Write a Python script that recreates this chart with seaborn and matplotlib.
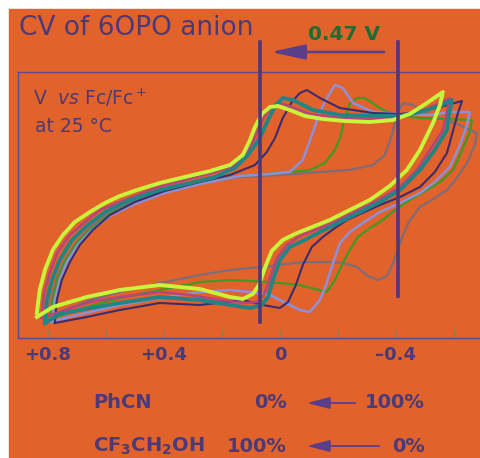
import numpy as np
import pandas as pd
import matplotlib
matplotlib.use("Agg")
import matplotlib.pyplot as plt
import seaborn as sns
from matplotlib.patches import Rectangle

# potential (V vs Fc/Fc+) and current (arb. units),
# each loop: upper branch left -> right, then lower branch back
E_grey = [0.793, 0.786, 0.769, 0.741, 0.703, 0.655, 0.593, 0.507, 0.403, 0.276, 0.138, 0.000,
          -0.138, -0.241, -0.321, -0.362, -0.386, -0.407, -0.424, -0.459, -0.493, -0.552, -0.621, -0.679,
          -0.672, -0.645, -0.610, -0.576, -0.534, -0.483, -0.448, -0.424, -0.407, -0.390, -0.369, -0.338,
          -0.303, -0.266, -0.217, -0.172, -0.079, 0.034, 0.172, 0.276, 0.414, 0.552, 0.655, 0.741, 0.793]
I_grey = [2.0, 4.0, 6.0, 7.8, 9.5, 11.0, 12.4, 13.6, 14.6, 15.5, 16.1, 16.3,
          16.6, 16.8, 17.3, 18.3, 20.3, 22.6, 23.5, 23.3, 22.6, 22.0, 21.3, 20.5,
          19.3, 17.5, 16.0, 14.8, 14.0, 13.1, 11.8, 10.3, 8.8, 7.5, 6.2, 5.8,
          6.2, 7.1, 7.5, 7.6, 7.6, 7.2, 6.8, 6.3, 5.5, 4.6, 3.8, 2.8, 2.0]

E_green = [0.793, 0.783, 0.766, 0.738, 0.700, 0.648, 0.586, 0.500, 0.397, 0.276, 0.138, 0.000,
           -0.103, -0.155, -0.190, -0.207, -0.224, -0.241, -0.266, -0.293, -0.345, -0.390, -0.483, -0.569, -0.662,
           -0.655, -0.621, -0.597, -0.552, -0.507, -0.448, -0.397, -0.345, -0.310, -0.269, -0.241, -0.217,
           -0.190, -0.162, -0.121, -0.069, 0.034, 0.172, 0.276, 0.414, 0.552, 0.655, 0.741, 0.793]
I_green = [1.8, 4.0, 6.0, 7.8, 9.5, 11.0, 12.4, 13.6, 14.6, 15.5, 16.2, 16.5,
           16.8, 17.5, 18.8, 20.0, 22.0, 23.4, 24.0, 24.0, 23.0, 22.3, 22.0, 21.9, 21.8,
           20.6, 18.3, 16.8, 15.6, 14.8, 13.8, 12.8, 11.6, 11.0, 10.1, 8.8, 7.5,
           5.8, 4.6, 4.9, 5.3, 5.6, 5.8, 5.6, 4.8, 4.0, 3.2, 2.4, 1.8]

E_lavender = [0.786, 0.776, 0.759, 0.734, 0.697, 0.648, 0.586, 0.500, 0.397, 0.276, 0.138, 0.034,
              -0.034, -0.079, -0.114, -0.138, -0.162, -0.190, -0.217, -0.252, -0.321, -0.414, -0.517, -0.586, -0.655,
              -0.645, -0.621, -0.586, -0.534, -0.483, -0.414, -0.345, -0.286, -0.241, -0.207, -0.183, -0.159,
              -0.138, -0.103, -0.069, -0.034, 0.034, 0.103, 0.172, 0.276, 0.414, 0.552, 0.655, 0.741, 0.786]
I_lavender = [1.6, 3.8, 5.8, 7.6, 9.3, 10.8, 12.2, 13.4, 14.5, 15.4, 16.2, 16.4,
              16.6, 17.8, 20.6, 22.6, 24.0, 25.3, 25.0, 23.5, 22.6, 22.4, 22.3, 22.6, 22.6,
              21.3, 19.3, 17.1, 15.6, 14.5, 13.5, 12.6, 11.5, 10.6, 9.5, 7.5, 5.3,
              3.8, 2.6, 2.8, 3.3, 4.3, 4.6, 4.8, 4.6, 4.0, 3.3, 2.6, 2.0, 1.6]

E_purple = [0.776, 0.769, 0.752, 0.724, 0.690, 0.645, 0.586, 0.500, 0.397, 0.276, 0.172, 0.086,
            0.045, 0.017, -0.010, -0.041, -0.069, -0.093, -0.138, -0.207, -0.321, -0.414, -0.483, -0.552, -0.628,
            -0.614, -0.593, -0.576, -0.534, -0.483, -0.414, -0.345, -0.276, -0.231, -0.190, -0.148, -0.110,
            -0.079, -0.055, -0.028, 0.000, 0.059, 0.128, 0.276, 0.414, 0.552, 0.666, 0.776]
I_purple = [1.5, 3.8, 5.8, 7.6, 9.3, 10.8, 12.3, 13.6, 14.7, 15.6, 16.3, 17.3,
            18.6, 20.0, 22.0, 23.6, 24.5, 24.8, 24.0, 23.0, 22.5, 22.4, 22.6, 23.1, 23.7,
            22.5, 20.3, 18.5, 16.6, 15.1, 14.1, 13.3, 12.4, 11.8, 11.0, 10.1, 9.1,
            7.3, 5.3, 3.6, 3.0, 3.3, 3.8, 3.3, 3.5, 2.8, 2.1, 1.5]

E_pink = [0.821, 0.814, 0.793, 0.766, 0.724, 0.672, 0.621, 0.534, 0.431, 0.328, 0.234, 0.162,
          0.117, 0.083, 0.055, 0.028, 0.000, -0.041, -0.103, -0.207, -0.321, -0.414, -0.483, -0.545, -0.586,
          -0.576, -0.562, -0.517, -0.472, -0.414, -0.345, -0.276, -0.207, -0.138, -0.069, -0.024, 0.010,
          0.034, 0.055, 0.079, 0.121, 0.207, 0.310, 0.414, 0.552, 0.655, 0.741, 0.821]
I_pink = [2.0, 4.3, 6.6, 8.6, 10.3, 11.6, 12.8, 13.8, 15.0, 15.8, 16.5, 17.2,
          18.4, 20.3, 22.1, 23.2, 23.5, 23.1, 22.4, 22.0, 21.9, 22.0, 22.6, 23.4, 24.0,
          22.6, 20.8, 18.8, 16.8, 15.1, 13.9, 12.9, 11.9, 11.0, 10.2, 9.3, 8.0,
          6.0, 4.3, 3.6, 3.5, 3.8, 4.3, 4.6, 4.1, 3.6, 2.8, 2.0]

E_teal = [0.810, 0.803, 0.786, 0.759, 0.717, 0.662, 0.603, 0.517, 0.414, 0.310, 0.224, 0.155,
          0.110, 0.069, 0.041, 0.017, -0.010, -0.045, -0.114, -0.207, -0.321, -0.414, -0.483, -0.552, -0.593,
          -0.583, -0.576, -0.534, -0.483, -0.414, -0.345, -0.276, -0.207, -0.138, -0.086, -0.034, 0.000,
          0.024, 0.041, 0.062, 0.103, 0.172, 0.276, 0.414, 0.552, 0.690, 0.759, 0.810]
I_teal = [1.5, 3.8, 5.8, 7.8, 9.8, 11.3, 12.6, 13.8, 14.8, 15.5, 16.1, 17.0,
          18.3, 20.0, 21.8, 23.2, 24.0, 23.8, 22.8, 22.3, 22.2, 22.2, 22.6, 23.2, 23.8,
          22.3, 20.8, 18.8, 16.8, 14.8, 13.6, 12.6, 11.6, 10.6, 9.8, 9.1, 7.8,
          5.8, 4.1, 3.3, 3.0, 3.3, 3.8, 4.1, 3.5, 2.8, 2.4, 1.5]

E_yellow = [0.838, 0.828, 0.810, 0.783, 0.748, 0.707, 0.655, 0.603, 0.552, 0.493, 0.414, 0.328,
            0.241, 0.172, 0.128, 0.103, 0.086, 0.062, 0.034, 0.007, -0.034, -0.086, -0.148, -0.224,
            -0.310, -0.390, -0.448, -0.507, -0.562,
            -0.552, -0.528, -0.483, -0.438, -0.379, -0.310, -0.241, -0.172, -0.103, -0.059, -0.010,
            0.028, 0.052, 0.072, 0.093, 0.128, 0.172, 0.276, 0.414, 0.552, 0.666, 0.783, 0.838]
I_yellow = [2.5, 4.8, 6.8, 8.8, 10.3, 11.6, 12.6, 13.5, 14.2, 14.8, 15.5, 16.1,
            16.7, 17.3, 18.3, 19.8, 21.1, 22.4, 23.1, 23.2, 22.8, 22.2, 21.9, 21.7,
            21.6, 21.8, 22.4, 23.5, 24.6,
            23.3, 21.5, 18.8, 16.8, 15.2, 13.8, 12.8, 11.8, 11.0, 10.5, 9.8,
            8.7, 7.0, 5.3, 4.4, 3.9, 4.1, 4.9, 5.3, 4.8, 4.1, 3.1, 2.1]

curves = ["grey", "green", "lavender", "purple", "pink", "teal", "yellow"]
E_data = [E_grey, E_green, E_lavender, E_purple, E_pink, E_teal, E_yellow]
I_data = [I_grey, I_green, I_lavender, I_purple, I_pink, I_teal, I_yellow]

# potentials marked by the two vertical bars
E_marks = [0.069, -0.407]
mark_tops = [29.6, 29.6]
mark_bottoms = [1.6, 4.2]

tick_major = [0.8, 0.4, 0.0, -0.4]
tick_labels = ["+0.8", "+0.4", "0", "\u20130.4"]
tick_minor = [0.6, 0.2, -0.2, -0.6]

ORANGE = "#E2622B"
INK = "#4B3A78"
palette = {"grey": "#7D6D78", "green": "#3E9A22", "lavender": "#8E90DA",
           "purple": "#3C2C6E", "pink": "#B5457A", "teal": "#228585",
           "yellow": "#C8F53C"}
widths = {"grey": 1.6, "green": 1.6, "lavender": 1.8, "purple": 1.5,
          "pink": 1.8, "teal": 2.8, "yellow": 2.8}

df = pd.concat([pd.DataFrame({"E": e, "I": i, "curve": c})
                for c, e, i in zip(curves, E_data, I_data)], ignore_index=True)

W, H = 480, 458


def fx(px):
    return px / W


def fy(py):
    return 1 - py / H


fig = plt.figure(figsize=(4.8, 4.58), dpi=100)
fig.patch.set_facecolor("white")
fig.add_artist(Rectangle((fx(9), 0), 1, fy(9), transform=fig.transFigure,
                         color=ORANGE, zorder=0))

ax = fig.add_axes([fx(18), fy(338), 1 - fx(18), (338 - 72) / H])
ax.set_facecolor(ORANGE)

for c in curves:
    sub = df[df["curve"] == c]
    sns.lineplot(data=sub, x="E", y="I", sort=False, estimator=None,
                 color=palette[c], lw=widths[c], ax=ax)

ax.set_xlim(0.903, -0.690)
ax.set_ylim(0, 26.6)
ax.set_xlabel("")
ax.set_ylabel("")
ax.set_yticks([])
ax.set_xticks(tick_major)
ax.set_xticklabels(tick_labels, fontsize=13, fontweight="bold", color=INK)
ax.set_xticks(tick_minor, minor=True)
ax.tick_params(axis="x", which="both", direction="in", length=6, width=1,
               color="#8A7A5A", pad=6)
ax.spines["right"].set_visible(False)
for s in ["left", "top", "bottom"]:
    ax.spines[s].set_color("#5B4A8C")
    ax.spines[s].set_linewidth(1)

# vertical markers and the 0.47 V shift arrow
for e, top, bot in zip(E_marks, mark_tops, mark_bottoms):
    ax.plot([e, e], [bot, top], color="#4E3878", lw=2.6, clip_on=False, zorder=5)
ax.annotate("", xy=(0.041, 28.6), xytext=(-0.369, 28.6), annotation_clip=False,
            arrowprops=dict(arrowstyle="-|>,head_length=1.05,head_width=0.23",
                            mutation_scale=20, color="#5A3E8A", lw=1.8))

fig.text(fx(19), fy(35), "CV of 6OPO anion", fontsize=19, color=INK, va="baseline")
fig.text(fx(308), fy(40), "0.47 V", fontsize=14.5, fontweight="bold",
         color="#1A6E34", va="baseline")
fig.text(fx(33), fy(105), r"V  $\it{vs}$ Fc/Fc$^+$", fontsize=13.5, color=INK, va="baseline")
fig.text(fx(35), fy(132), "at 25 \u00b0C", fontsize=13.5, color=INK, va="baseline")

fig.text(fx(93), fy(408), "PhCN", fontsize=14, fontweight="bold", color=INK, va="baseline")
fig.text(fx(287), fy(408), "0%", fontsize=14, fontweight="bold", color=INK,
         va="baseline", ha="right")
fig.text(fx(425), fy(408), "100%", fontsize=14, fontweight="bold", color=INK,
         va="baseline", ha="right")
fig.text(fx(93), fy(452), r"CF$_\mathbf{3}$CH$_\mathbf{2}$OH", fontsize=14,
         fontweight="bold", color=INK, va="baseline")
fig.text(fx(287), fy(452), "100%", fontsize=14, fontweight="bold", color=INK,
         va="baseline", ha="right")
fig.text(fx(425), fy(452), "0%", fontsize=14, fontweight="bold", color=INK,
         va="baseline", ha="right")

for x0, x1, y in [(358, 304, 403), (382, 304, 446)]:
    ax.annotate("", xy=(fx(x1), fy(y)), xytext=(fx(x0), fy(y)),
                xycoords="figure fraction", textcoords="figure fraction",
                annotation_clip=False,
                arrowprops=dict(arrowstyle="-|>,head_length=0.7,head_width=0.18",
                                mutation_scale=20, color="#5A3E8A", lw=1.3))

fig.savefig("out.png", dpi=100, facecolor=fig.get_facecolor())
